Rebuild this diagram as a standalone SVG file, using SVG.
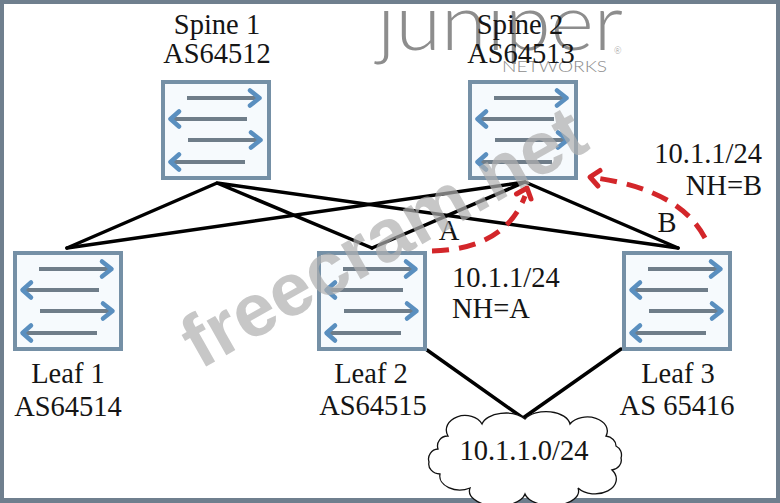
<svg xmlns="http://www.w3.org/2000/svg" xmlns:xlink="http://www.w3.org/1999/xlink" width="780" height="503" viewBox="0 0 780 503">
<style>
.lbl{font-family:"Liberation Serif","Times New Roman",serif;font-size:28.5px;fill:#151515;}
.mid{text-anchor:middle;}
.end{text-anchor:end;}
.box{fill:#f6fafd;stroke:#7590a6;stroke-width:4;}
.ln{stroke:#6f7d89;stroke-width:4;stroke-linecap:butt;fill:none;}
.hd{stroke:#5a8fbf;stroke-width:4.5;stroke-linecap:round;stroke-linejoin:round;fill:none;}
.conn{stroke:#000;stroke-width:3.5;stroke-linecap:round;fill:none;}
.red{stroke:#d3262a;stroke-width:5;fill:none;stroke-dasharray:17 10;}
.redhd{stroke:#d3262a;stroke-width:5;fill:none;stroke-linecap:round;stroke-linejoin:round;}
.logo{font-family:Lato,"Open Sans",sans-serif;font-weight:300;fill:#8d8d8d;}
.wm{font-family:"Liberation Sans",Arial,sans-serif;font-weight:bold;font-size:75px;fill:#b0b0b0;opacity:0.7;}
</style>
<defs>
<g id="sw">
<rect class="box" x="2" y="2" width="106" height="96"/>
<path class="ln" d="M26,18H95M86,39H12M27,60H96M84,82H12"/>
<path class="hd" d="M89,10.5L98.5,18L89,25.5M18,31.5L9.5,39L18,46.5M90,52.5L99.5,60L90,67.5M18,74.5L9.5,82L18,89.5"/>
</g>
</defs>
<rect x="0" y="0" width="780" height="503" fill="#ffffff"/>
<path d="M0,0H780V503H0Z M4,4V498H776V4Z" fill="#6f7f8e" fill-rule="evenodd"/>
<g id="logo">
<text class="logo" x="377" y="50" font-size="78" textLength="246" lengthAdjust="spacingAndGlyphs">ȷunıper</text>
<text class="logo" x="502" y="72" font-size="16" textLength="105" lengthAdjust="spacingAndGlyphs">NETWORKS</text>
<text class="logo" x="614" y="54" font-size="9">®</text>
</g>
<g id="connectors">
<path class="conn" d="M217,183L67,248M217,183L372,248M217,183L678,248"/>
<path class="conn" d="M525,182L67,248M525,182L372,248M525,182L678,248"/>
<path class="conn" d="M427,350L523,418M621,349L523,418"/>
</g>
<g id="spine1">
<use xlink:href="#sw" x="161" y="80"/>
<text class="lbl mid" x="217" y="34">Spine 1</text>
<text class="lbl mid" x="217" y="63">AS64512</text>
</g>
<g id="spine2">
<use xlink:href="#sw" x="468" y="80"/>
<text class="lbl mid" x="520" y="34">Spine 2</text>
<text class="lbl mid" x="521" y="63">AS64513</text>
</g>
<g id="leaf1">
<use xlink:href="#sw" x="13" y="251"/>
<text class="lbl mid" x="68" y="383">Leaf 1</text>
<text class="lbl mid" x="68" y="416">AS64514</text>
</g>
<g id="leaf2">
<use xlink:href="#sw" x="317" y="251"/>
<text class="lbl mid" x="371" y="383">Leaf 2</text>
<text class="lbl mid" x="373" y="415">AS64515</text>
</g>
<g id="leaf3">
<use xlink:href="#sw" x="622" y="251"/>
<text class="lbl mid" x="678" y="383">Leaf 3</text>
<text class="lbl mid" x="677" y="415">AS 65416</text>
</g>
<g id="cloud">
<path d="M448,436 A18,14 0 0 1 482,424 A24,14 0 0 1 525,419 A24,14 0 0 1 570,424 A20,14 0 0 1 606,436 A12,10 0 0 1 616,446 A10,10 0 0 1 621,458 A12,10 0 0 1 612,470 A20,14 0 0 1 578,488 A26,14 0 0 1 525,494 A26,14 0 0 1 470,488 A20,14 0 0 1 440,474 A12,10 0 0 1 429,462 A10,10 0 0 1 438,449 A10,10 0 0 1 448,436 Z" fill="#ffffff" stroke="#111" stroke-width="1.3"/>
<text class="lbl mid" x="524" y="460">10.1.1.0/24</text>
</g>
<g id="labels">
<text class="lbl mid" x="449" y="240">A</text>
<text class="lbl mid" x="667" y="232">B</text>
<text class="lbl end" x="762" y="163">10.1.1/24</text>
<text class="lbl end" x="762" y="195">NH=B</text>
<text class="lbl" x="452" y="287">10.1.1/24</text>
<text class="lbl" x="452" y="318">NH=A</text>
</g>
<g id="routes">
<path class="red" d="M432,251 Q505,249 525,196"/>
<path class="redhd" d="M516.5,194 L527,188 L531,199"/>
<path class="red" d="M705,238 Q680,190 596,178"/>
<path class="redhd" d="M598,186 L590,177 L600,170.5"/>
</g>
<g id="watermark">
<text class="wm" x="200" y="370" transform="rotate(-29.5 200 370)">freecram.net</text>
</g>
</svg>
